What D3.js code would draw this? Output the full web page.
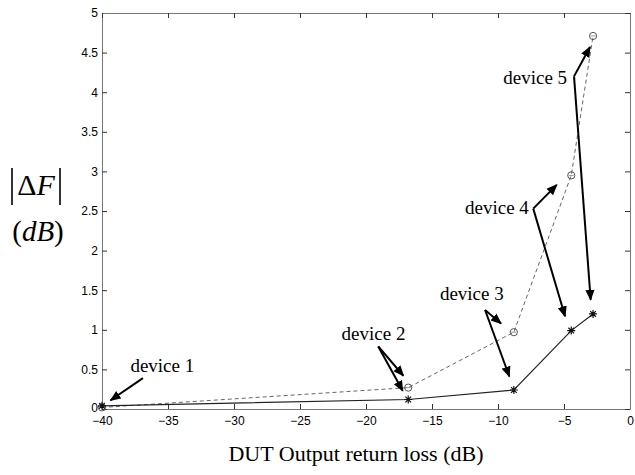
<!DOCTYPE html>
<html>
<head>
<meta charset="utf-8">
<script src="https://cdn.jsdelivr.net/npm/d3@7"></script>
<style>
  html, body { margin: 0; padding: 0; background: #fff; }
  svg { display: block; }
</style>
</head>
<body>
<svg id="chart" width="635" height="475"></svg>
<script>
// Output return loss of each device under test (dB)
const returnLoss = [-40, -16.8, -8.8, -4.45, -2.8];
// |ΔF| measured with the first method (circles, dashed line)
const deltaCircle = [0.02, 0.27, 0.97, 2.95, 4.71];
// |ΔF| measured with the second method (stars, solid line)
const deltaStar = [0.04, 0.12, 0.24, 0.99, 1.2];

const xTicks = [-40, -35, -30, -25, -20, -15, -10, -5, 0];
const yTicks = [0, 0.5, 1, 1.5, 2, 2.5, 3, 3.5, 4, 4.5, 5];

// Device callouts: label anchor and arrow start/ends, in data units
const deviceNames = ["device 1", "device 2", "device 3", "device 4", "device 5"];
const labelAt = [[-37.85, 0.47], [-21.85, 0.87], [-14.4, 1.37], [-12.5, 2.46], [-9.6, 4.1]];
const arrowFrom = [[-36.9, 0.39], [-19.07, 0.79], [-10.98, 1.25], [-7.33, 2.53], [-4.24, 4.2]];
const arrowTo = [
  [[-39.35, 0.11]],
  [[-17.17, 0.42], [-17.22, 0.23]],
  [[-9.77, 1.08], [-9.14, 0.41]],
  [[-5.55, 2.83], [-4.92, 1.17]],
  [[-3.03, 4.57], [-2.98, 1.38]]
];

const svg = d3.select("#chart");
const plotLeft = 102, plotRight = 630, plotTop = 13, plotBottom = 409;

const x = d3.scaleLinear().domain([-40, 0]).range([plotLeft, plotRight]);
const y = d3.scaleLinear().domain([0, 5]).range([plotBottom, plotTop]);

const tickFont = "'Liberation Sans', Arial, sans-serif";

function styleAxis(g, showText) {
  g.select(".domain").attr("stroke", "#777").attr("stroke-width", 1);
  g.selectAll(".tick line").attr("stroke", "#333").attr("stroke-width", 1);
  g.selectAll(".tick text")
    .attr("fill", "#000")
    .style("font-family", tickFont)
    .style("font-size", "12px")
    .style("display", showText ? null : "none");
}

// Bottom and left axes with inward ticks
svg.append("g").attr("transform", `translate(0,${plotBottom})`)
  .call(d3.axisBottom(x).tickValues(xTicks).tickSize(-5).tickPadding(7).tickSizeOuter(0).tickFormat(d3.format("d")))
  .call(g => styleAxis(g, true));
svg.append("g").attr("transform", `translate(${plotLeft},0)`)
  .call(d3.axisLeft(y).tickValues(yTicks).tickSize(-5).tickPadding(4).tickSizeOuter(0).tickFormat(d => String(d)))
  .call(g => styleAxis(g, true))
  .call(g => g.selectAll(".tick text").filter(d => d === 0).attr("dy", "0.2em"));
// Mirrored top and right axes (ticks only)
svg.append("g").attr("transform", `translate(0,${plotTop})`)
  .call(d3.axisTop(x).tickValues(xTicks).tickSize(-5).tickSizeOuter(0))
  .call(g => styleAxis(g, false));
svg.append("g").attr("transform", `translate(${plotRight},0)`)
  .call(d3.axisRight(y).tickValues(yTicks).tickSize(-5).tickSizeOuter(0))
  .call(g => styleAxis(g, false));

const circlePts = returnLoss.map((v, i) => [v, deltaCircle[i]]);
const starPts = returnLoss.map((v, i) => [v, deltaStar[i]]);
const line = d3.line().x(d => x(d[0])).y(d => y(d[1]));

// Dashed series with open circles
svg.append("path").datum(circlePts)
  .attr("d", line).attr("fill", "none")
  .attr("stroke", "#666").attr("stroke-width", 1)
  .attr("stroke-dasharray", "4,3");
svg.append("g").selectAll("circle").data(circlePts).join("circle")
  .attr("cx", d => x(d[0])).attr("cy", d => y(d[1])).attr("r", 3.6)
  .attr("fill", "none").attr("stroke", "#555").attr("stroke-width", 1);
svg.append("g").selectAll("line").data(circlePts).join("line")
  .attr("x1", d => x(d[0]) - 2.5).attr("x2", d => x(d[0]) + 2.5)
  .attr("y1", d => y(d[1])).attr("y2", d => y(d[1]))
  .attr("stroke", "#777").attr("stroke-width", 0.8);

// Solid series with asterisk markers
svg.append("path").datum(starPts)
  .attr("d", line).attr("fill", "none")
  .attr("stroke", "#222").attr("stroke-width", 1.2);
function asterisk(cx, cy, r) {
  const s = r * Math.SQRT1_2;
  return `M${cx - r},${cy}L${cx + r},${cy}M${cx},${cy - r}L${cx},${cy + r}` +
         `M${cx - s},${cy - s}L${cx + s},${cy + s}M${cx - s},${cy + s}L${cx + s},${cy - s}`;
}
svg.append("g").selectAll("path").data(starPts).join("path")
  .attr("d", d => asterisk(x(d[0]), y(d[1]), 4))
  .attr("stroke", "#111").attr("stroke-width", 1.2).attr("fill", "none");

// Arrowhead marker
svg.append("defs").append("marker")
  .attr("id", "head").attr("viewBox", "0 0 10 10")
  .attr("refX", 9).attr("refY", 5)
  .attr("markerWidth", 5.5).attr("markerHeight", 5.5)
  .attr("markerUnits", "strokeWidth")
  .attr("orient", "auto")
  .append("path").attr("d", "M0,0.8L10,5L0,9.2Z").attr("fill", "#000");

const serif = "'Liberation Serif', 'Times New Roman', serif";
const callouts = svg.append("g");
deviceNames.forEach((name, i) => {
  callouts.append("text")
    .attr("x", x(labelAt[i][0])).attr("y", y(labelAt[i][1]))
    .style("font-family", serif)
    .style("font-size", "19px").attr("fill", "#000")
    .text(name);
  arrowTo[i].forEach(end => {
    callouts.append("line")
      .attr("x1", x(arrowFrom[i][0])).attr("y1", y(arrowFrom[i][1]))
      .attr("x2", x(end[0])).attr("y2", y(end[1]))
      .attr("stroke", "#000").attr("stroke-width", 2)
      .attr("marker-end", "url(#head)");
  });
});

// Y axis title |ΔF| over (dB)
const yTitle = svg.append("g");
yTitle.append("line").attr("x1", 12).attr("x2", 12).attr("y1", 168).attr("y2", 205)
  .attr("stroke", "#000").attr("stroke-width", 1.6);
yTitle.append("line").attr("x1", 60).attr("x2", 60).attr("y1", 168).attr("y2", 205)
  .attr("stroke", "#000").attr("stroke-width", 1.6);
const df = yTitle.append("text").attr("x", 36).attr("y", 195).attr("text-anchor", "middle")
  .style("font-family", serif).style("font-size", "30px");
df.append("tspan").text("Δ");
df.append("tspan").style("font-style", "italic").text("F");
const dbT = yTitle.append("text").attr("x", 38).attr("y", 241).attr("text-anchor", "middle")
  .style("font-family", serif).style("font-size", "29px");
dbT.append("tspan").text("(");
dbT.append("tspan").style("font-style", "italic").text("dB");
dbT.append("tspan").text(")");

// X axis title
svg.append("text").attr("x", (plotLeft + plotRight) / 2 - 10).attr("y", 461)
  .attr("text-anchor", "middle")
  .style("font-family", serif).style("font-size", "22px")
  .text("DUT Output return loss (dB)");
</script>
</body>
</html>
